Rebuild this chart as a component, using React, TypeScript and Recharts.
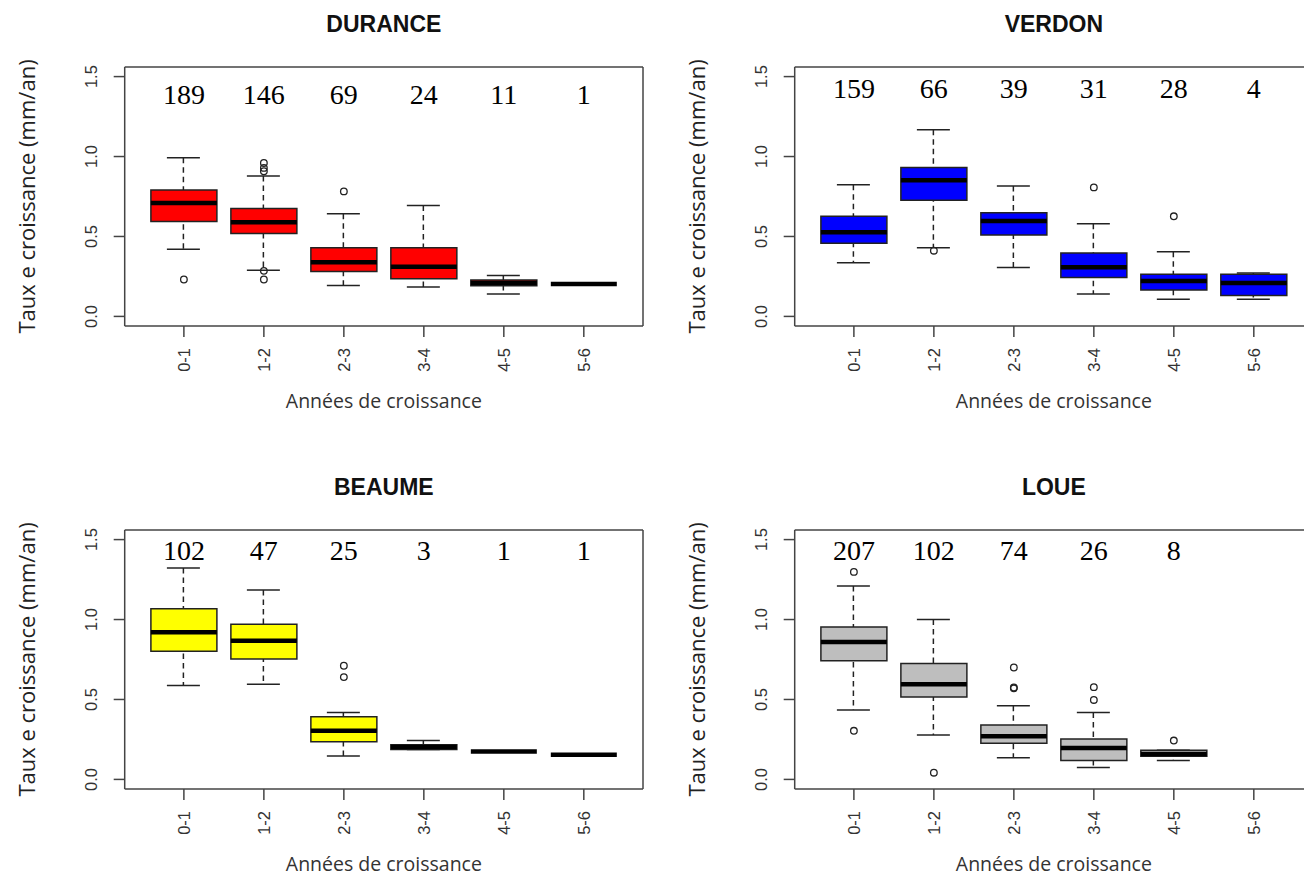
import React from "react";
import { ComposedChart, Bar, Scatter, XAxis, YAxis } from "recharts";

const years = ["0-1", "1-2", "2-3", "3-4", "4-5", "5-6"];

// each box: [lower whisker, Q1, median, Q3, upper whisker]
const durance = [
  [0.42, 0.593, 0.709, 0.79, 0.992],
  [0.289, 0.518, 0.589, 0.675, 0.879],
  [0.193, 0.281, 0.338, 0.43, 0.642],
  [0.184, 0.235, 0.31, 0.43, 0.694],
  [0.14, 0.191, 0.209, 0.228, 0.256],
  [0.203, 0.203, 0.203, 0.203, 0.203],
];
const duranceOut = [[0.231], [0.96, 0.929, 0.908, 0.285, 0.231], [0.782], [], [], []];
const duranceN = [189, 146, 69, 24, 11, 1];

const verdon = [
  [0.335, 0.457, 0.526, 0.626, 0.824],
  [0.43, 0.727, 0.851, 0.931, 1.168],
  [0.306, 0.509, 0.597, 0.648, 0.816],
  [0.14, 0.243, 0.308, 0.396, 0.579],
  [0.107, 0.165, 0.222, 0.264, 0.405],
  [0.107, 0.13, 0.209, 0.264, 0.272],
];
const verdonOut = [[], [0.411], [], [0.807], [0.626], []];
const verdonN = [159, 66, 39, 31, 28, 4];

const beaume = [
  [0.587, 0.801, 0.92, 1.067, 1.323],
  [0.595, 0.753, 0.868, 0.971, 1.184],
  [0.147, 0.235, 0.304, 0.392, 0.419],
  [0.187, 0.187, 0.203, 0.216, 0.243],
  [0.174, 0.174, 0.174, 0.174, 0.174],
  [0.155, 0.155, 0.155, 0.155, 0.155],
];
const beaumeOut = [[], [], [0.711, 0.64], [], [], []];
const beaumeN = [102, 47, 25, 3, 1, 1];

const loue = [
  [0.434, 0.742, 0.86, 0.954, 1.21],
  [0.277, 0.516, 0.595, 0.725, 1.0],
  [0.136, 0.226, 0.27, 0.34, 0.461],
  [0.075, 0.119, 0.197, 0.252, 0.419],
  [0.119, 0.145, 0.159, 0.182, 0.182],
  null,
];
const loueOut = [[1.298, 0.304], [0.042], [0.7, 0.575, 0.57], [0.577, 0.497], [0.243], []];
const loueN = [207, 102, 74, 26, 8];

const SANS = "'Liberation Sans', Arial, sans-serif";
const LABEL_FONT = "'Open Sans', 'Liberation Sans', sans-serif";
const SERIF = "'Liberation Serif', 'Times New Roman', serif";
const INK = "#222";
const FRAME = "#444";

const W = 653;
const H = 438;
const PAD_L = 124.7;
const PAD_T = 67;
const PAD_R = 10;
const PAD_B = 112;

const xDom: [number, number] = [0.26, 6.74];
const yDom: [number, number] = [-0.06, 1.56];
const axisStroke = { stroke: FRAME, strokeWidth: 1.5 };

const XTick = (p: any) => {
  const { x, y, payload } = p;
  return (
    <text
      x={x}
      y={y}
      transform={`rotate(-90, ${x}, ${y})`}
      textAnchor="end"
      dominantBaseline="central"
      fontFamily={SANS}
      fontSize={16.5}
      fill="#333"
    >
      {years[payload.value - 1]}
    </text>
  );
};

const YTick = (p: any) => {
  const { x, y, payload } = p;
  return (
    <text
      x={x}
      y={y}
      transform={`rotate(-90, ${x}, ${y})`}
      textAnchor="middle"
      fontFamily={SANS}
      fontSize={16.5}
      fill="#333"
    >
      {Number(payload.value).toFixed(1)}
    </text>
  );
};

const Whisker = (p: any) => {
  const { x, y, width, height } = p;
  if (x == null || y == null) return <g />;
  const cx = x + width / 2;
  return (
    <g stroke={INK} strokeWidth={1.5}>
      <line x1={cx} x2={cx} y1={y} y2={y + height} strokeDasharray="5.5 4" />
      <line x1={x} x2={x + width} y1={y} y2={y} />
      <line x1={x} x2={x + width} y1={y + height} y2={y + height} />
    </g>
  );
};

const Median = (p: any) => {
  const { x, y, width } = p;
  if (x == null || y == null) return <g />;
  return <line x1={x} x2={x + width} y1={y} y2={y} stroke="#000" strokeWidth={4.5} />;
};

const Outlier = (p: any) => (
  <circle cx={p.cx} cy={p.cy} r={3.3} fill="none" stroke={INK} strokeWidth={1.3} />
);

const CountText = (p: any) => (
  <text x={p.cx} y={p.cy + 9.5} textAnchor="middle" fontFamily={SERIF} fontSize={28} fill="#000">
    {p.payload.n}
  </text>
);

type PanelProps = {
  title: string;
  stats: (number[] | null)[];
  outliers: number[][];
  counts: number[];
  fill: string;
  countY: number;
  left: number;
  top: number;
};

function Panel({ title, stats, outliers, counts, fill, countY, left, top }: PanelProps) {
  const rows = years.map((_, i) => {
    const s = stats[i];
    return s
      ? { x: i + 1, lo: s[0], q1: s[1], med: s[2], q3: s[3], hi: s[4] }
      : { x: i + 1, lo: null, q1: null, med: null, q3: null, hi: null };
  });
  const outPts = outliers.flatMap((arr, i) => arr.map((v) => ({ x: i + 1, y: v })));
  const countPts = counts.map((n, i) => ({ x: i + 1, y: countY, n }));

  const titleLabel = (p: any) => {
    const vb = p.viewBox || { x: PAD_L, y: 0, width: W - PAD_L - PAD_R, height: PAD_T };
    return (
      <text
        x={vb.x + vb.width / 2}
        y={vb.y + vb.height - 35}
        textAnchor="middle"
        fontFamily={SANS}
        fontWeight="bold"
        fontSize={23}
        fill="#111"
      >
        {title}
      </text>
    );
  };
  const xTitle = (p: any) => {
    const vb = p.viewBox || { x: PAD_L, y: H - PAD_B, width: W - PAD_L - PAD_R, height: PAD_B };
    return (
      <text x={vb.x + vb.width / 2} y={vb.y + 82} textAnchor="middle" fontFamily={LABEL_FONT} fontSize={19.5} fill="#333">
        Années de croissance
      </text>
    );
  };
  const yTitle = (p: any) => {
    const vb = p.viewBox || { x: 0, y: PAD_T, width: PAD_L, height: H - PAD_T - PAD_B };
    const tx = vb.x + vb.width - 90;
    const ty = vb.y + vb.height / 2;
    return (
      <text
        x={tx}
        y={ty}
        transform={`rotate(-90, ${tx}, ${ty})`}
        textAnchor="middle"
        fontFamily={LABEL_FONT}
        fontSize={22}
        fill="#222"
      >
        Taux e croissance (mm/an)
      </text>
    );
  };

  return (
    <div style={{ position: "absolute", left, top, width: W, height: H }}>
      <ComposedChart width={W} height={H} data={rows} margin={{ top: 0, right: 0, bottom: 0, left: 0 }}>
        <XAxis
          dataKey="x"
          type="number"
          domain={xDom}
          allowDataOverflow
          ticks={[1, 2, 3, 4, 5, 6]}
          interval={0}
          height={PAD_B}
          tickSize={11}
          tickMargin={11}
          tick={XTick}
          tickLine={axisStroke}
          axisLine={axisStroke}
          label={xTitle}
        />
        <XAxis
          xAxisId="top"
          orientation="top"
          type="number"
          domain={xDom}
          allowDataOverflow
          height={PAD_T}
          tick={false}
          tickLine={false}
          axisLine={axisStroke}
          label={titleLabel}
        />
        <XAxis xAxisId="w" dataKey="x" type="number" domain={xDom} allowDataOverflow hide />
        <XAxis xAxisId="m" dataKey="x" type="number" domain={xDom} allowDataOverflow hide />
        <YAxis
          type="number"
          domain={yDom}
          allowDataOverflow
          ticks={[0, 0.5, 1, 1.5]}
          interval={0}
          width={PAD_L}
          tickSize={11}
          tickMargin={17}
          tick={YTick}
          tickLine={axisStroke}
          axisLine={axisStroke}
          label={yTitle}
        />
        <YAxis
          yAxisId="r"
          orientation="right"
          type="number"
          domain={yDom}
          allowDataOverflow
          width={PAD_R}
          tick={false}
          tickLine={false}
          axisLine={axisStroke}
        />
        <Bar
          xAxisId="w"
          dataKey={(d: any) => (d.lo == null ? null : [d.lo, d.hi])}
          barSize={33}
          shape={Whisker}
          isAnimationActive={false}
        />
        <Bar
          dataKey={(d: any) => (d.q1 == null ? null : [d.q1, d.q3])}
          barSize={66}
          fill={fill}
          stroke={INK}
          strokeWidth={1.5}
          isAnimationActive={false}
        />
        <Bar
          xAxisId="m"
          dataKey={(d: any) => (d.med == null ? null : [d.med, d.med])}
          barSize={66}
          shape={Median}
          isAnimationActive={false}
        />
        <Scatter data={outPts} dataKey="y" shape={Outlier} isAnimationActive={false} />
        <Scatter data={countPts} dataKey="y" shape={CountText} isAnimationActive={false} />
      </ComposedChart>
    </div>
  );
}

export default function App() {
  return (
    <div
      style={{
        position: "absolute",
        left: 0,
        top: 0,
        width: 1304,
        height: 877,
        overflow: "hidden",
        background: "#fff",
      }}
    >
      <Panel title="DURANCE" stats={durance} outliers={duranceOut} counts={duranceN} fill="#ff0000" countY={1.385} left={0} top={0} />
      <Panel title="VERDON" stats={verdon} outliers={verdonOut} counts={verdonN} fill="#0000ff" countY={1.425} left={670.3} top={0} />
      <Panel title="BEAUME" stats={beaume} outliers={beaumeOut} counts={beaumeN} fill="#ffff00" countY={1.43} left={0} top={463} />
      <Panel title="LOUE" stats={loue} outliers={loueOut} counts={loueN} fill="#bebebe" countY={1.43} left={670.3} top={463} />
    </div>
  );
}
